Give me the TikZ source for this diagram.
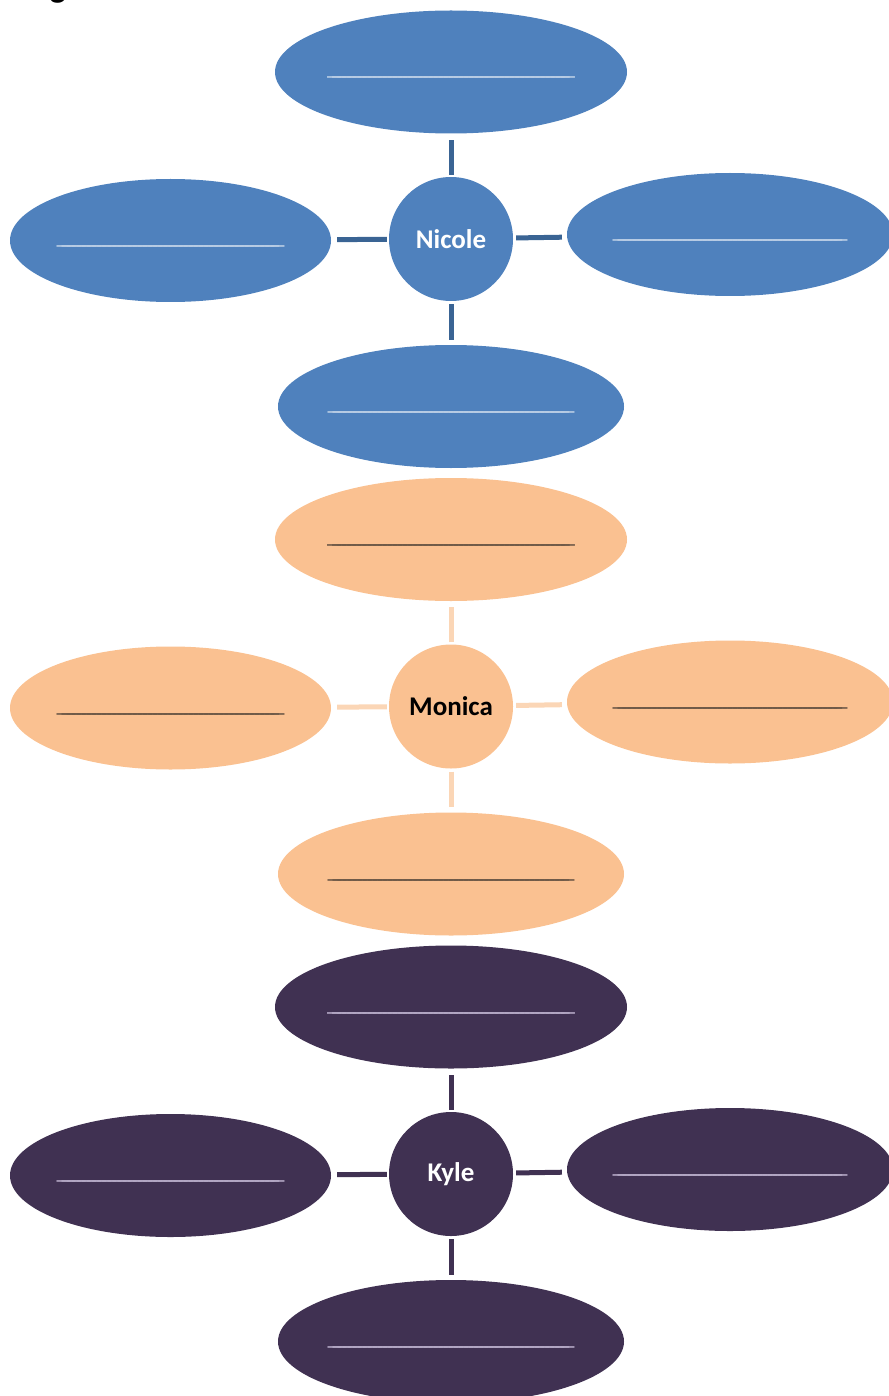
\documentclass[tikz,border=0pt]{standalone}
\usepackage{fontspec}
\setmainfont{Carlito}
\usetikzlibrary{shapes.geometric}
\definecolor{nfill}{HTML}{4F81BD}
\definecolor{nline}{HTML}{3A6494}
\definecolor{nblank}{HTML}{B9CDE5}
\definecolor{mfill}{HTML}{FAC191}
\definecolor{mline}{HTML}{FBD6B6}
\definecolor{mblank}{HTML}{6F5A48}
\definecolor{kfill}{HTML}{403152}
\definecolor{kline}{HTML}{403152}
\definecolor{kblank}{HTML}{B3A7C4}
\newcommand{\blankline}[1]{\hbox to 0pt{\hss\raisebox{-3pt}{\hbox to #1{\xleaders\hbox to 5pt{\_\hss}\hfill\_}}\hss}}
\newcommand{\makegroup}[7]{%
  % #1 prefix, #2 dy, #3 fill, #4 link colour, #5 blank colour, #6 name colour, #7 name
  \node[oval=352pt, fill=#3, text=#5] (#1t) at (451,{72+#2}) {\blankline{248pt}};
  \node[oval=321pt, fill=#3, text=#5] (#1l) at (170.5,{240.5+#2}) {\blankline{228pt}};
  \node[oval=326pt, fill=#3, text=#5] (#1r) at (730,{234.5+#2}) {\blankline{235pt}};
  \node[oval=346pt, fill=#3, text=#5] (#1b) at (451,{406.5+#2}) {\blankline{247pt}};
  \node[hub, fill=#3, text=#6] (#1c) at (451,{239+#2}) {#7};
  \draw[link, #4, shorten <=2pt, shorten >=6pt] (#1c) -- (#1t);
  \draw[link, #4, shorten <=3pt, shorten >=5pt] (#1c) -- (#1b);
  \draw[link, #4, shorten <=2pt, shorten >=6pt] (#1c) -- (#1l);
  \draw[link, #4, shorten <=3pt, shorten >=5pt] (#1c) -- (#1r);
}
\begin{document}
\begin{tikzpicture}[x=1pt, y=-1pt,
  oval/.style={ellipse, inner sep=0pt, minimum width=#1, minimum height=123pt,
    text height=0pt, text depth=0pt, font=\fontsize{28}{34}\selectfont},
  hub/.style={circle, inner sep=0pt, minimum size=124pt,
    font=\fontsize{27}{32}\selectfont\bfseries},
  link/.style={line width=5pt},
  heading/.style={font=\fontsize{34}{40}\selectfont\bfseries, anchor=base, inner sep=0pt}
]
\useasboundingbox (0,0) rectangle (888,1396);
\node[heading] (title) at (58,-2) {g};
\makegroup{n}{0}{nfill}{nline}{nblank}{white}{Nicole}
\makegroup{m}{467.5}{mfill}{mline}{mblank}{black}{Monica}
\makegroup{k}{935}{kfill}{kline}{kblank}{white}{Kyle}
\end{tikzpicture}
\end{document}
